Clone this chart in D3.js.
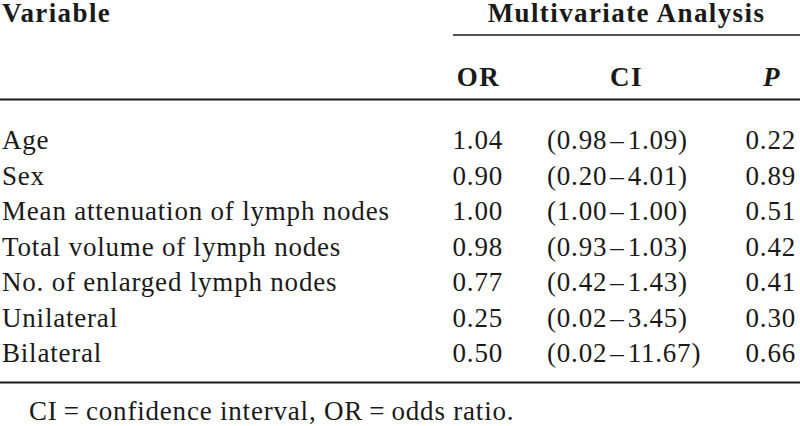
<!DOCTYPE html>
<html>
<head>
<meta charset="utf-8">
<script src="https://cdn.jsdelivr.net/npm/d3@7"></script>
<style>
  body { margin: 0; background: #fff; }
  text { font-family: "Liberation Serif", "Times New Roman", serif; fill: #1a1a1a; }
</style>
</head>
<body>
<svg id="chart"></svg>
<script>
// table content
const variables = [
  'Age',
  'Sex',
  'Mean attenuation of lymph nodes',
  'Total volume of lymph nodes',
  'No. of enlarged lymph nodes',
  'Unilateral',
  'Bilateral'
];
const orValues = ['1.04', '0.90', '1.00', '0.98', '0.77', '0.25', '0.50'];
const ciLow = ['0.98', '0.20', '1.00', '0.93', '0.42', '0.02', '0.02'];
const ciHigh = ['1.09', '4.01', '1.00', '1.03', '1.43', '3.45', '11.67'];
const pValues = ['0.22', '0.89', '0.51', '0.42', '0.41', '0.30', '0.66'];
const footnote = 'CI\u2009=\u2009confidence interval, OR\u2009=\u2009odds ratio.';

const width = 800;
const height = 426;
const fontSize = 27;
const bodySpacing = 0.8;
const headSpacing = 1.4;

const svg = d3.select('#chart')
  .attr('width', width)
  .attr('height', height);

// row baselines
const y = d3.scalePoint()
  .domain(variables)
  .range([149, 362]);

// column anchors
const col = {
  variable: 2,
  or: 503,
  ci: 547,
  p: 796
};

// header
const header = [
  { t: 'Variable', x: col.variable, y: 22, anchor: 'start' },
  { t: 'Multivariate Analysis', x: 626.5, y: 22, anchor: 'middle' },
  { t: 'OR', x: 478.5, y: 86, anchor: 'middle' },
  { t: 'CI', x: 626.5, y: 86, anchor: 'middle' },
  { t: 'P', x: 772, y: 86, anchor: 'middle', italic: true }
];
svg.selectAll('.head')
  .data(header)
  .enter()
  .append('text')
  .attr('class', 'head')
  .attr('x', d => d.x)
  .attr('y', d => d.y)
  .attr('text-anchor', d => d.anchor)
  .attr('font-size', fontSize)
  .attr('font-weight', 'bold')
  .attr('font-style', d => d.italic ? 'italic' : 'normal')
  .attr('letter-spacing', headSpacing)
  .text(d => d.t);

// rules
const rules = [
  { x1: 453, x2: width, y: 35, w: 1.5 },
  { x1: 0, x2: width, y: 99.5, w: 2 },
  { x1: 0, x2: width, y: 382.5, w: 2 }
];
svg.selectAll('.rule')
  .data(rules)
  .enter()
  .append('line')
  .attr('class', 'rule')
  .attr('x1', d => d.x1)
  .attr('x2', d => d.x2)
  .attr('y1', d => d.y)
  .attr('y2', d => d.y)
  .attr('stroke', '#1a1a1a')
  .attr('stroke-width', d => d.w);

// body rows
const rows = svg.selectAll('.row')
  .data(variables.map((v, i) => ({
    name: v,
    or: orValues[i],
    ci: '(' + ciLow[i] + '\u200a\u2013\u200a' + ciHigh[i] + ')',
    p: pValues[i]
  })))
  .enter()
  .append('g')
  .attr('class', 'row')
  .attr('transform', d => `translate(0, ${y(d.name)})`)
  .attr('font-size', fontSize)
  .attr('letter-spacing', bodySpacing);

rows.append('text')
  .attr('x', col.variable)
  .text(d => d.name);

rows.append('text')
  .attr('x', col.or)
  .attr('text-anchor', 'end')
  .text(d => d.or);

rows.append('text')
  .attr('x', col.ci)
  .text(d => d.ci);

rows.append('text')
  .attr('x', col.p)
  .attr('text-anchor', 'end')
  .text(d => d.p);

// footnote
svg.append('text')
  .attr('x', 29)
  .attr('y', 420)
  .attr('font-size', fontSize)
  .attr('letter-spacing', bodySpacing)
  .text(footnote);
</script>
</body>
</html>
